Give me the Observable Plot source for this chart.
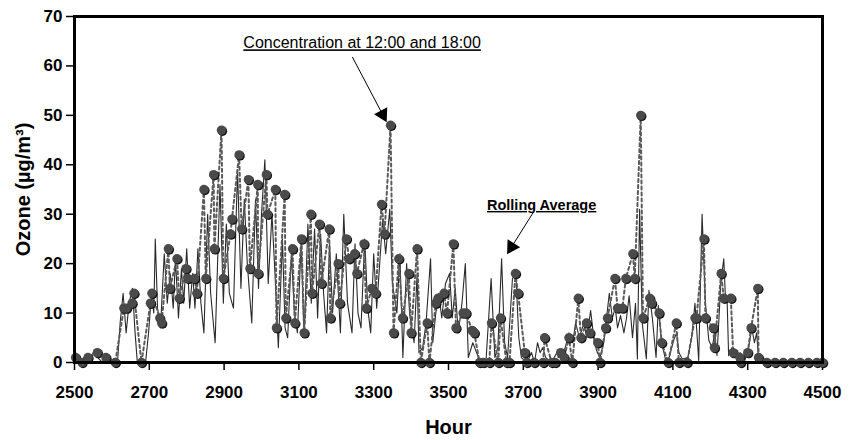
<!DOCTYPE html>
<html>
<head>
<meta charset="utf-8">
<script src="https://cdn.jsdelivr.net/npm/d3@7"></script>
<script src="https://cdn.jsdelivr.net/npm/@observablehq/plot@0.6"></script>
<style>
  html, body { margin: 0; padding: 0; background: #fff; }
  #chart { width: 851px; height: 440px; }
</style>
</head>
<body>
<div id="chart"></div>
<script>
// Concentration at 12:00 and 18:00 (dots + dotted line)
const dotHours = [2503,2520,2536,2561,2584,2609,2632,2639,2654,2659,2679,2703,2707,2728,2733,2751,2755,2774,2780,2798,2803,2821,2827,2846,2851,2872,2874,2893,2898,2917,2921,2940,2947,2965,2969,2990,2991,3013,3016,3037,3040,3062,3065,3083,3089,3107,3114,3132,3135,3155,3160,3181,3184,3205,3209,3227,3234,3249,3255,3274,3280,3295,3305,3321,3329,3345,3353,3367,3377,3394,3400,3416,3426,3443,3449,3466,3472,3488,3496,3513,3520,3539,3547,3563,3569,3583,3593,3609,3615,3633,3639,3655,3663,3679,3686,3704,3709,3729,3753,3757,3776,3785,3800,3809,3822,3831,3847,3854,3869,3878,3899,3905,3920,3925,3945,3952,3965,3974,3993,3998,4014,4020,4038,4043,4063,4070,4087,4109,4116,4138,4159,4163,4183,4187,4208,4211,4229,4236,4255,4261,4279,4281,4300,4309,4327,4329,4351,4373,4395,4418,4440,4462,4485,4500];
const dotValues = [1,0,1,2,1,0,11,11,12,14,0,12,14,9,8,23,15,21,13,19,17,17,14,35,17,38,23,47,17,26,29,42,27,37,19,36,18,38,30,35,7,34,9,23,8,25,6,30,14,28,16,27,9,20,12,25,21,22,18,24,11,15,14,32,26,48,6,21,9,18,6,23,0,8,0,12,13,14,10,24,7,10,10,6.5,6,0,0,0,8,0,9,0,0,18,14,2,0,0,0,5,0,0,2,1,5,0,13,5,8,6,4,0,7,9,17,11,11,17,22,17,50,9,13,12,10,4,0,8,0,0,9,9,25,9,7,3,18,13,13,2,1,0,2,7,15,1,0,0,0,0,0,0,0,0];

// Rolling average (thin solid line)
const rollHours = [2500,2506,2515,2525,2540,2550,2562,2575,2590,2605,2615,2622,2630,2638,2646,2655,2662,2668,2690,2698,2706,2712,2716,2722,2730,2740,2748,2756,2764,2770,2778,2786,2792,2800,2808,2816,2822,2830,2838,2846,2856,2864,2876,2889,2898,2906,2914,2925,2936,2945,2954,2962,2974,2984,2992,3000,3009,3018,3028,3036,3045,3056,3063,3070,3080,3088,3096,3106,3114,3124,3133,3142,3150,3158,3166,3174,3182,3190,3200,3211,3220,3230,3242,3250,3258,3266,3276,3284,3292,3300,3308,3316,3324,3332,3343,3350,3362,3370,3378,3388,3396,3408,3416,3421,3431,3440,3452,3458,3466,3474,3482,3492,3503,3510,3518,3526,3536,3545,3553,3565,3575,3585,3600,3614,3624,3632,3642,3650,3658,3671,3680,3688,3695,3710,3722,3730,3738,3745,3752,3760,3775,3790,3800,3812,3822,3832,3840,3850,3862,3870,3880,3890,3898,3905,3915,3930,3938,3946,3952,3960,3969,3976,3983,3992,4000,4005,4011,4018,4029,4036,4045,4055,4061,4070,4080,4090,4102,4110,4116,4125,4140,4150,4159,4169,4178,4187,4196,4205,4212,4218,4228,4236,4240,4245,4249,4258,4271,4280,4289,4300,4311,4318,4324,4329,4340];
const rollValues = [3,1,0,1,0,2,1,0,1,0,0,8,14,6,12,15,6,0,0,6,14,10,25,11,7,22,12,18,11,21,9,19,12,23,11,18,11,23,12,6,30,14,4,36,12,28,14,11,39,15,33,20,8,33,15,30,41,16,30,18,3,25,7,5,22,10,6,24,5,28,12,27,9,26,14,6,24,10,22,6,30,12,6,24,10,7,25,11,6,22,11,20,29,22,31,16,10,22,1,20,10,4,18,2,3,8,21,4,10,14,9,16,18,9,15,6,12,20,1,4,2,0,0,17,1,3,21,4,1,17,18,5,1,0,2,0,4,2,3,1,0,2,1,3,6,4,8,5,8,5,10.5,4,2,1,4,14,9,11,7,9.5,6,9,13.5,5,12,0.7,31,8,0.7,14.6,9,1,11.5,4,0.7,1,4.5,6,2,0.7,1,5,12,0.4,30,12,4.5,3,6,1.4,16,21,14,12.5,1.4,3,1,2,0,2,7,4,6,0.7,0];

const xTicks = [2500,2700,2900,3100,3300,3500,3700,3900,4100,4300,4500];
const yTicks = [0,10,20,30,40,50,60,70];

// Annotations
const noteTexts = ["Concentration at 12:00 and 18:00", "Rolling Average"];
const noteX = [3269, 3749];
const noteY = [64.6, 31.8];
const noteWeight = ["normal", "bold"];
const arrowX1 = [3243, 3727];
const arrowY1 = [61.8, 30.4];
const arrowX2 = [3332, 3663];
const arrowY2 = [49, 22.7];
const arrowAngle = [152, 212];

const dots = dotHours.map((h, i) => ({h, v: dotValues[i]}));
const roll = rollHours.map((h, i) => ({h, v: rollValues[i]}));
const notes = noteTexts.map((t, i) => ({t, x: noteX[i], y: noteY[i], w: noteWeight[i]}));
const arrows = arrowX1.map((x1, i) => ({
  x1, y1: arrowY1[i], x2: arrowX2[i], y2: arrowY2[i], a: arrowAngle[i],
  hx: arrowX2[i] - 0.09 * (arrowX2[i] - x1),
  hy: arrowY2[i] - 0.09 * (arrowY2[i] - arrowY1[i])
}));

const chart = Plot.plot({
  width: 851,
  height: 440,
  marginLeft: 74,
  marginRight: 29,
  marginTop: 16,
  marginBottom: 78,
  style: {fontFamily: "'Liberation Sans', Arial, sans-serif", fontSize: "17px", fontWeight: "bold", color: "#000", background: "#fff"},
  x: {domain: [2500, 4500], ticks: xTicks, tickFormat: d => String(d), tickSize: 8, tickPadding: 15, label: null},
  y: {domain: [0, 70], ticks: yTicks, tickSize: 8, tickPadding: 4, label: null},
  marks: [
    Plot.line(roll, {x: "h", y: "v", stroke: "#2a2a2a", strokeWidth: 1.1}),
    Plot.line(dots, {x: "h", y: "v", stroke: "#5a5a5a", strokeWidth: 2, strokeDasharray: "3,3"}),
    Plot.dot(dots, {x: "h", y: "v", r: 4.7, fill: "#111", dx: 1, dy: 1}),
    Plot.dot(dots, {x: "h", y: "v", r: 4.7, fill: "#4a4a4a"}),
    Plot.frame({stroke: "#000", strokeWidth: 3}),
    Plot.link(arrows, {x1: "x1", y1: "y1", x2: "hx", y2: "hy", stroke: "#000", strokeWidth: 1}),
    Plot.dot(arrows, {x: "hx", y: "hy", symbol: "triangle", r: 5.5, fill: "#000", rotate: "a"}),
    Plot.text(notes.filter(d => d.w === "normal"), {x: "x", y: "y", text: "t", fontSize: 16, fontWeight: "normal", fill: "#000"}),
    Plot.text(notes.filter(d => d.w === "bold"), {x: "x", y: "y", text: "t", fontSize: 14.5, fontWeight: "bold", fill: "#000"}),
    Plot.text(["Hour"], {frameAnchor: "bottom", dy: 71, text: d => d, fontSize: 20, fontWeight: "bold", fill: "#000"}),
    Plot.text(["Ozone (µg/m³)"], {frameAnchor: "left", dx: -51, rotate: -90, textAnchor: "middle", text: d => d, fontSize: 20, fontWeight: "bold", fill: "#000"})
  ]
});

d3.select(chart).selectAll("text")
  .filter(function() { return noteTexts.includes(this.textContent); })
  .attr("text-decoration", "underline");
d3.select(chart).selectAll("[aria-label^='x-axis'] line, [aria-label^='y-axis'] line, [aria-label$='tick'] path")
  .attr("stroke-width", 1.5);

document.getElementById("chart").appendChild(chart);
</script>
</body>
</html>
